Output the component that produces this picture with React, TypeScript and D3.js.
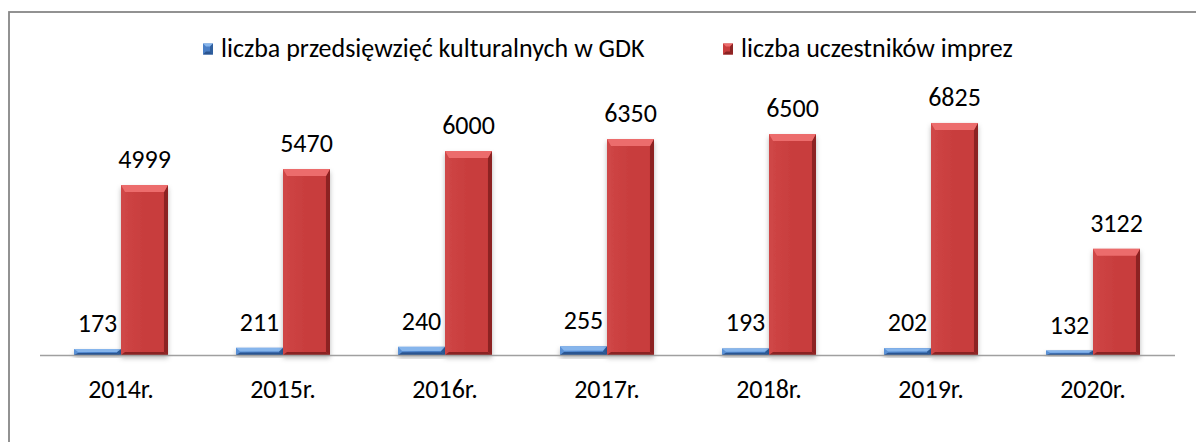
import React from "react";
import * as d3 from "d3";

const years = ["2014r.", "2015r.", "2016r.", "2017r.", "2018r.", "2019r.", "2020r."];
const events = [173, 211, 240, 255, 193, 202, 132];
const participants = [4999, 5470, 6000, 6350, 6500, 6825, 3122];
const seriesNames = ["liczba przedsięwzięć kulturalnych w GDK", "liczba uczestników imprez"];

const FONT = "Carlito, Lato, 'Open Sans', sans-serif";
const FS = 26;

const palettes = [
  { base: "#4a7fc6", light: "#86b5ec", left: "#5a91d6", right: "#2f5f9e", bottom: "#2b5590", id: "gb" },
  { base: "#c83d3d", light: "#ec6c6c", left: "#cf4646", right: "#8c2424", bottom: "#8a2222", id: "gr" },
];

function Bar({ x, y, w, h, p }: { x: number; y: number; w: number; h: number; p: (typeof palettes)[0] }) {
  const bt = Math.min(7, h / 2);
  const bs = Math.min(4, w / 4);
  const bb = Math.min(3, h / 3);
  return (
    <g filter="url(#shadow)">
      <rect x={x} y={y} width={w} height={h} fill={`url(#${p.id})`} />
      <polygon points={`${x},${y} ${x + bs},${y + bt} ${x + bs},${y + h - bb} ${x},${y + h}`} fill={p.left} />
      <polygon points={`${x + w},${y} ${x + w - bs},${y + bt} ${x + w - bs},${y + h - bb} ${x + w},${y + h}`} fill={p.right} />
      <polygon points={`${x},${y + h} ${x + bs},${y + h - bb} ${x + w - bs},${y + h - bb} ${x + w},${y + h}`} fill={p.bottom} />
      <polygon points={`${x},${y} ${x + w},${y} ${x + w - bs},${y + bt} ${x + bs},${y + bt}`} fill={p.light} />
    </g>
  );
}

function LegendIcon({ x, y, p }: { x: number; y: number; p: (typeof palettes)[0] }) {
  const w = 10, h = 11, b = 3;
  return (
    <g>
      <rect x={x} y={y} width={w} height={h} fill={p.base} />
      <polygon points={`${x},${y} ${x + w},${y} ${x + w - b},${y + b} ${x + b},${y + b}`} fill={p.light} />
      <polygon points={`${x + w},${y} ${x + w},${y + h} ${x + w - b},${y + h - b} ${x + w - b},${y + b}`} fill={p.right} />
      <polygon points={`${x},${y + h} ${x + w},${y + h} ${x + w - b},${y + h - b} ${x + b},${y + h - b}`} fill={p.bottom} />
    </g>
  );
}

export default function App() {
  const W = 1196;
  const H = 442;
  const x0 = d3.scaleBand<string>().domain(years).range([40, 1174]).paddingInner(0.42).paddingOuter(0.21);
  const x1 = d3.scaleBand<number>().domain([0, 1]).range([0, x0.bandwidth()]).padding(0);
  const y = d3.scaleLinear().domain([0, 8000]).range([355, 83]);
  const series = [events, participants];

  return (
    <svg width={W} height={H} style={{ position: "absolute", left: 0, top: 0 }} fontFamily={FONT}>
      <defs>
        <filter id="shadow" x="-20%" y="-20%" width="140%" height="160%">
          <feDropShadow dx="0" dy="3" stdDeviation="2.5" floodColor="#000" floodOpacity="0.28" />
        </filter>
        {palettes.map((p) => (
          <linearGradient key={p.id} id={p.id} x1="0" x2="1" y1="0" y2="0">
            <stop offset="0" stopColor={p.left} />
            <stop offset="0.5" stopColor={p.base} />
            <stop offset="1" stopColor={p.base} />
          </linearGradient>
        ))}
      </defs>
      <rect x={0} y={0} width={W} height={H} fill="#fff" />
      <rect x={9} y={12} width={1300} height={600} fill="none" stroke="#878787" strokeWidth={1.8} />

      {/* legend */}
      <g>
        <LegendIcon x={203} y={43.5} p={palettes[0]} />
        <text x={221} y={57} fontSize={FS} fill="#000">{seriesNames[0]}</text>
        <LegendIcon x={723} y={43.5} p={palettes[1]} />
        <text x={741} y={57} fontSize={FS} fill="#000">{seriesNames[1]}</text>
      </g>

      {/* bars */}
      {years.map((yr, i) => (
        <g key={yr}>
          {series.map((vals, s) => {
            const bx = (x0(yr) as number) + (x1(s) as number);
            const bw = x1.bandwidth();
            const top = y(vals[i]);
            return <Bar key={s} x={bx} y={top} w={bw} h={y(0) - top} p={palettes[s]} />;
          })}
        </g>
      ))}

      {/* axis line */}
      <line x1={40} x2={1175} y1={355.5} y2={355.5} stroke="#a0a0a0" strokeWidth={1.5} />

      {/* data labels */}
      {years.map((yr, i) => (
        <g key={"l" + yr}>
          {series.map((vals, s) => {
            const cx = (x0(yr) as number) + (x1(s) as number) + x1.bandwidth() / 2;
            return (
              <text key={s} x={cx} y={y(vals[i]) - 17} textAnchor="middle" fontSize={FS} fill="#000">
                {vals[i]}
              </text>
            );
          })}
        </g>
      ))}

      {/* category labels */}
      {years.map((yr) => (
        <text key={"c" + yr} x={(x0(yr) as number) + x0.bandwidth() / 2} y={398} textAnchor="middle" fontSize={FS} fill="#000">
          {yr}
        </text>
      ))}
    </svg>
  );
}
